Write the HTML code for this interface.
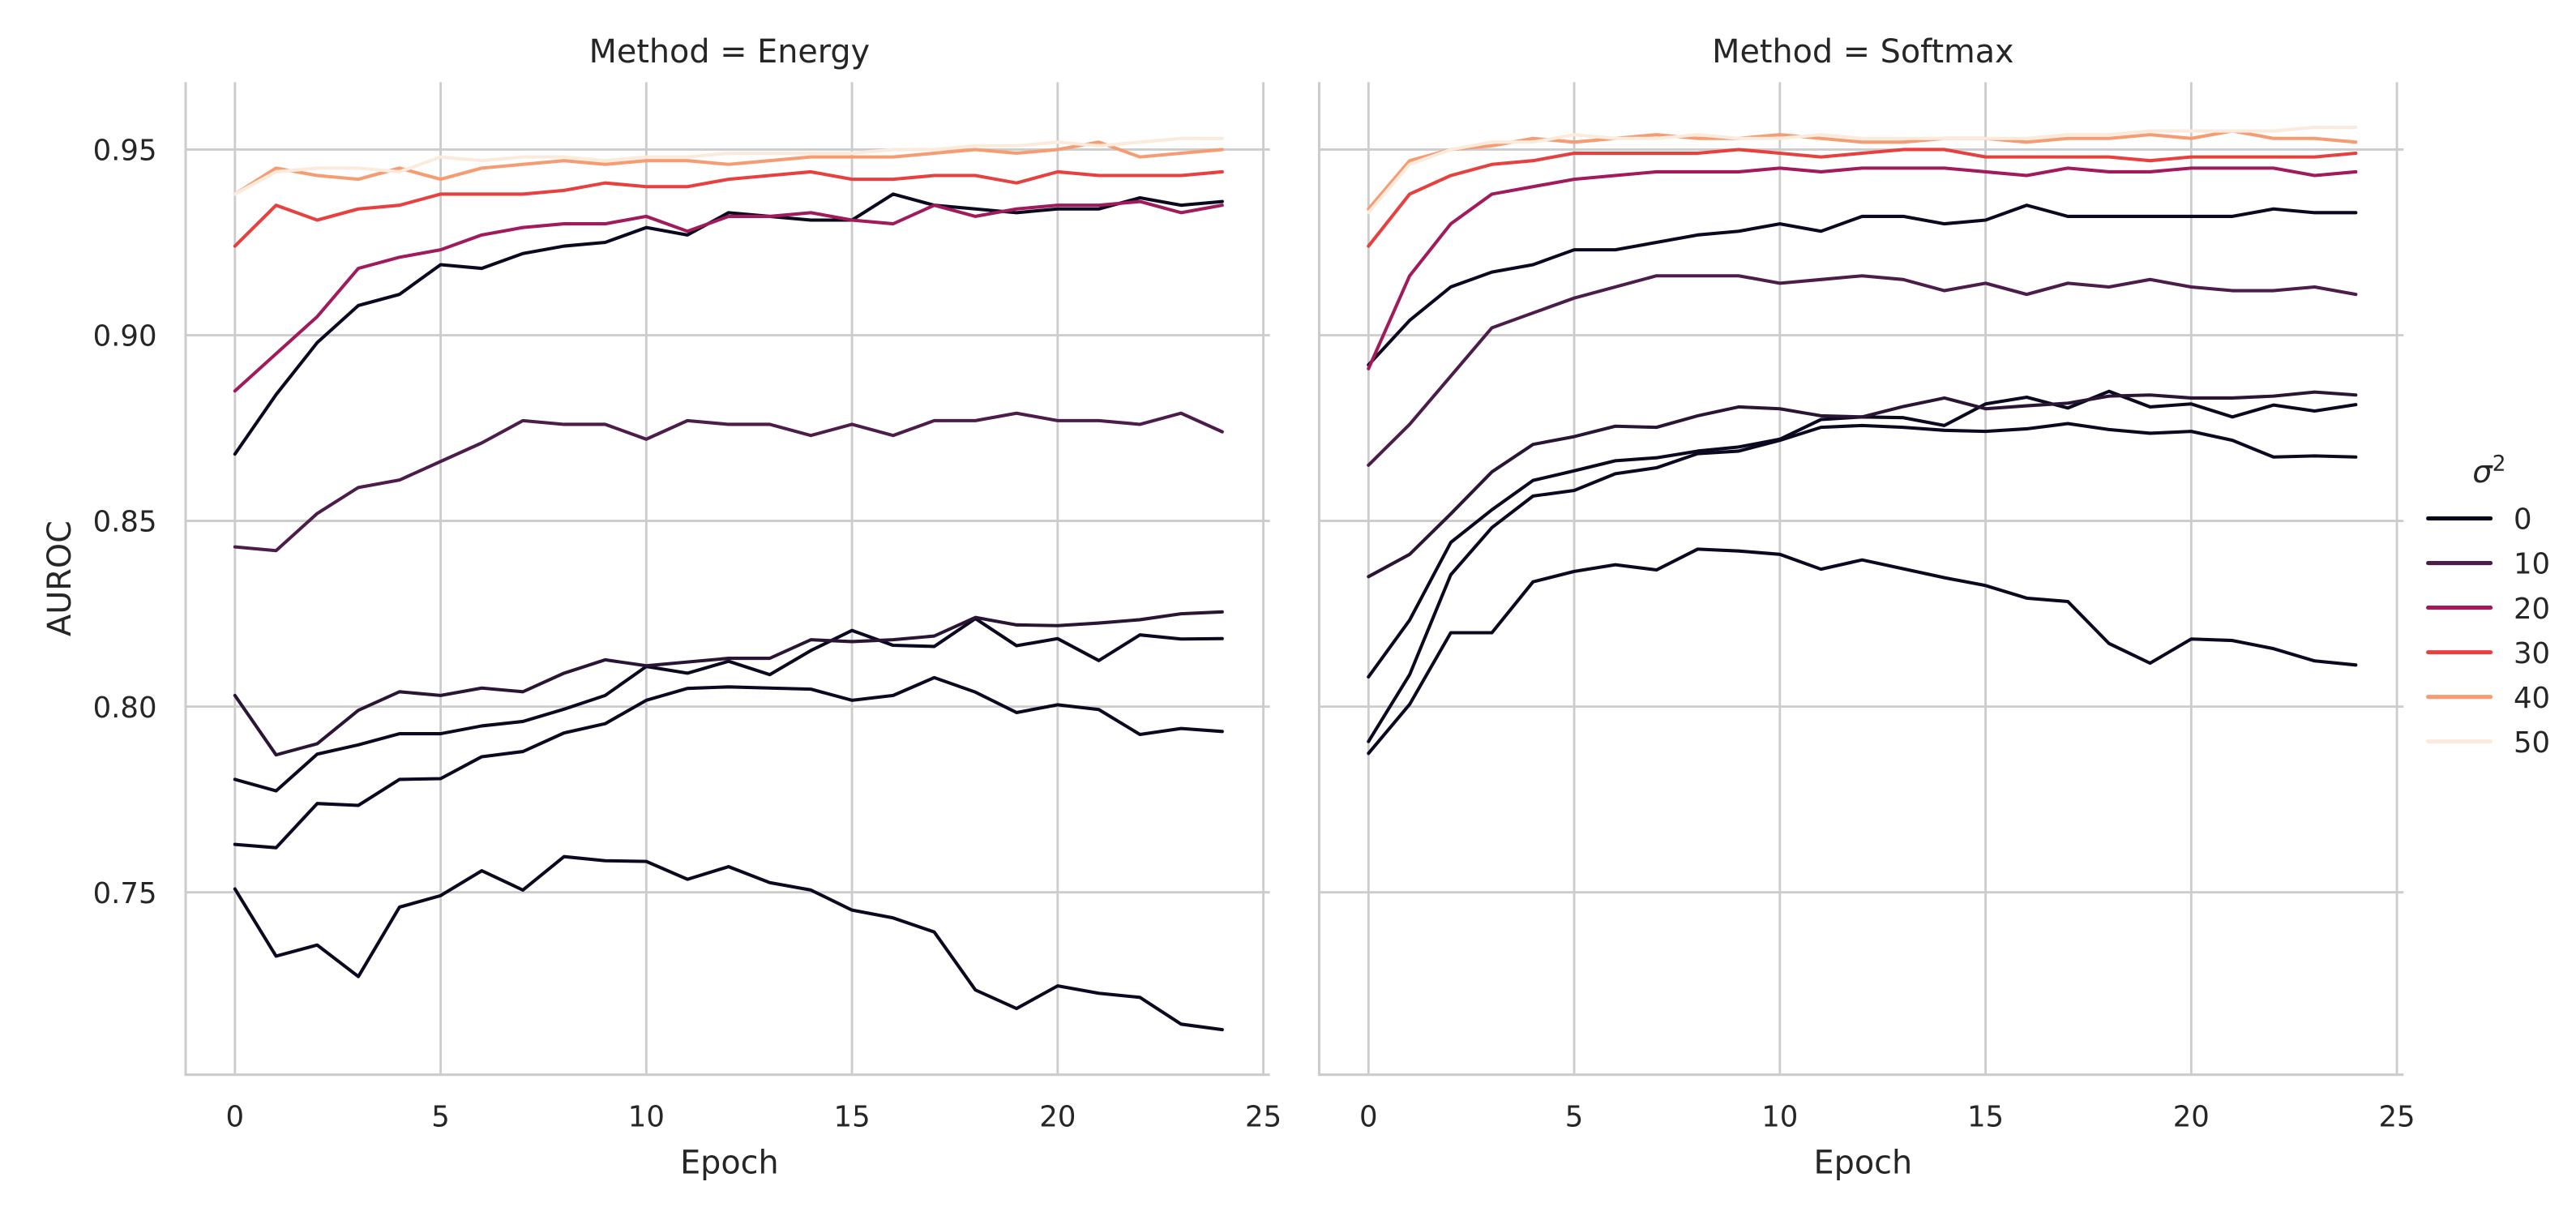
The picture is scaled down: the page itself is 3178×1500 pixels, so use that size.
<!DOCTYPE html>
<html><head><meta charset="utf-8"><style>
html,body{margin:0;padding:0;background:#fff;}
svg{display:block;}
text{font-family:"DejaVu Sans","Liberation Sans",sans-serif;fill:#262626;}
</style></head><body>
<svg id="chart" xmlns="http://www.w3.org/2000/svg" width="3178" height="1500" viewBox="0 0 1568 740" preserveAspectRatio="none">
<g id="root"></g>
</svg>
<script>
const epochs = Array.from({length:25},(_,i)=>i);
const yTicks = [0.75,0.80,0.85,0.90,0.95];
const yTickLabels = ["0.75","0.80","0.85","0.90","0.95"];
const xTicks = [0,5,10,15,20,25];
const xTickLabels = ["0","5","10","15","20","25"];
const panelTitles = ["Method = Energy","Method = Softmax"];
const legendLabels = ["0","10","20","30","40","50"];
const legendColors = ["#03051a","#4c1d4b","#a11a5b","#e83f3f","#f69c73","#faebdd"];

// Energy panel series
const energyColors = ["#0b0920","#0b0920","#0b0920","#2a1535","#4c1d4b","#0b0920","#a11a5b","#e83f3f","#f69c73","#faebdd"];
const energyNames = ["s0-a","s0-b","s0-c","s5","s10","s0-top","s20","s30","s40","s50"];
const eB4 = [0.7509,0.7328,0.7358,0.7273,0.746,0.7491,0.7558,0.7506,0.7596,0.7585,0.7583,0.7535,0.7569,0.7526,0.7506,0.7452,0.7431,0.7393,0.7237,0.7187,0.7248,0.7228,0.7217,0.7145,0.713];
const eB3 = [0.7629,0.762,0.7739,0.7734,0.7804,0.7806,0.7865,0.7879,0.7929,0.7954,0.8017,0.8049,0.8053,0.805,0.8047,0.8017,0.803,0.8078,0.8039,0.7984,0.8005,0.7992,0.7925,0.7941,0.7933];
const eB2 = [0.7804,0.7773,0.7872,0.7897,0.7927,0.7927,0.7948,0.796,0.7993,0.803,0.8108,0.809,0.8122,0.8086,0.8151,0.8205,0.8165,0.8162,0.8237,0.8164,0.8183,0.8124,0.8193,0.8182,0.8183];
const eP5 = [0.803,0.787,0.790,0.799,0.804,0.803,0.805,0.804,0.809,0.8126,0.811,0.812,0.813,0.813,0.818,0.8175,0.818,0.819,0.824,0.822,0.8218,0.8225,0.8234,0.825,0.8255];
const eP10 = [0.843,0.842,0.852,0.859,0.861,0.866,0.871,0.877,0.876,0.876,0.872,0.877,0.876,0.876,0.873,0.876,0.873,0.877,0.877,0.879,0.877,0.877,0.876,0.879,0.874];
const eB1 = [0.868,0.884,0.898,0.908,0.911,0.919,0.918,0.922,0.924,0.925,0.929,0.927,0.933,0.932,0.931,0.931,0.938,0.935,0.934,0.933,0.934,0.934,0.937,0.935,0.936];
const e20 = [0.885,0.895,0.905,0.918,0.921,0.923,0.927,0.929,0.930,0.930,0.932,0.928,0.932,0.932,0.933,0.931,0.930,0.935,0.932,0.934,0.935,0.935,0.936,0.933,0.935];
const e30 = [0.924,0.935,0.931,0.934,0.935,0.938,0.938,0.938,0.939,0.941,0.940,0.940,0.942,0.943,0.944,0.942,0.942,0.943,0.943,0.941,0.944,0.943,0.943,0.943,0.944];
const e40 = [0.938,0.945,0.943,0.942,0.945,0.942,0.945,0.946,0.947,0.946,0.947,0.947,0.946,0.947,0.948,0.948,0.948,0.949,0.950,0.949,0.950,0.952,0.948,0.949,0.950];
const e50 = [0.938,0.944,0.945,0.945,0.944,0.948,0.947,0.948,0.948,0.947,0.948,0.948,0.949,0.949,0.949,0.949,0.950,0.950,0.951,0.951,0.952,0.951,0.952,0.953,0.953];

// Softmax panel series
const softColors = ["#0b0920","#0b0920","#0b0920","#2a1535","#4c1d4b","#0b0920","#a11a5b","#e83f3f","#f69c73","#faebdd"];
const softNames = ["s0-a","s0-b","s0-c","s5","s10","s0-top","s20","s30","s40","s50"];
const sB4 = [0.7874,0.8006,0.8199,0.8199,0.8336,0.8364,0.8382,0.8368,0.8424,0.8419,0.841,0.837,0.8395,0.8371,0.8347,0.8326,0.8292,0.8283,0.817,0.8117,0.8182,0.8178,0.8156,0.8123,0.8112];
const sB3 = [0.7906,0.8086,0.8355,0.8482,0.8567,0.8582,0.8627,0.8643,0.8681,0.8688,0.8717,0.8752,0.8757,0.8752,0.8744,0.8741,0.8748,0.8762,0.8746,0.8736,0.8741,0.8717,0.8672,0.8675,0.8672];
const sB2 = [0.808,0.8233,0.8442,0.853,0.8609,0.8635,0.8662,0.867,0.8688,0.8699,0.872,0.8773,0.878,0.8778,0.8757,0.8815,0.8833,0.8804,0.8849,0.8807,0.8815,0.878,0.8812,0.8796,0.8813];
const sP5 = [0.835,0.841,0.8519,0.8632,0.8706,0.8727,0.8755,0.8752,0.8783,0.8807,0.8802,0.8783,0.878,0.8808,0.8831,0.8802,0.881,0.8817,0.8836,0.8839,0.8831,0.8831,0.8836,0.8847,0.8839];
const sP10 = [0.865,0.876,0.889,0.902,0.906,0.910,0.913,0.916,0.916,0.916,0.914,0.915,0.916,0.915,0.912,0.914,0.911,0.914,0.913,0.915,0.913,0.912,0.912,0.913,0.911];
const sB1 = [0.892,0.904,0.913,0.917,0.919,0.923,0.923,0.925,0.927,0.928,0.930,0.928,0.932,0.932,0.930,0.931,0.935,0.932,0.932,0.932,0.932,0.932,0.934,0.933,0.933];
const s20 = [0.891,0.916,0.930,0.938,0.940,0.942,0.943,0.944,0.944,0.944,0.945,0.944,0.945,0.945,0.945,0.944,0.943,0.945,0.944,0.944,0.945,0.945,0.945,0.943,0.944];
const s30 = [0.924,0.938,0.943,0.946,0.947,0.949,0.949,0.949,0.949,0.950,0.949,0.948,0.949,0.950,0.950,0.948,0.948,0.948,0.948,0.947,0.948,0.948,0.948,0.948,0.949];
const s40 = [0.934,0.947,0.950,0.951,0.953,0.952,0.953,0.954,0.953,0.953,0.954,0.953,0.952,0.952,0.953,0.953,0.952,0.953,0.953,0.954,0.953,0.955,0.953,0.953,0.952];
const s50 = [0.933,0.946,0.950,0.952,0.952,0.954,0.953,0.953,0.954,0.953,0.953,0.954,0.953,0.953,0.953,0.953,0.953,0.954,0.954,0.955,0.955,0.955,0.955,0.956,0.956];

const energySeries = [eB4,eB3,eB2,eP5,eP10,eB1,e20,e30,e40,e50];
const softSeries = [sB4,sB3,sB2,sP5,sP10,sB1,s20,s30,s40,s50];

const NS = "http://www.w3.org/2000/svg";
const root = document.getElementById('root');
function mk(tag, attrs, parent){
  const el = document.createElementNS(NS, tag);
  for (const k in attrs) el.setAttribute(k, attrs[k]);
  (parent||root).appendChild(el);
  return el;
}
const PX = 25.04;
function yScale(v){ return 91 + (0.95 - v) * 2260; }
const panels = [
  {x0:143, left:113, right:773, title:panelTitles[0], series:energySeries, colors:energyColors, names:energyNames, key:'energy', showY:true},
  {x0:833, left:803, right:1463, title:panelTitles[1], series:softSeries, colors:softColors, names:softNames, key:'softmax', showY:false}
];
const TOP = 50, BOT = 654;
panels.forEach(p => {
  const xScale = e => p.x0 + e * PX;
  const g = mk('g', {});
  
  
  xTicks.forEach((t,i) => {
    const gl = mk('line', {x1:xScale(t), x2:xScale(t), y1:TOP, y2:BOT, stroke:'#cccccc', 'stroke-width':1.4}, g);
    
    
    const tl = mk('text', {x:xScale(t), y:685.5, 'font-size':17.5, 'text-anchor':'middle'}, g);
    tl.textContent = xTickLabels[i];
    
    
  });
  yTicks.forEach((t,i) => {
    const gl = mk('line', {x1:p.left, x2:p.right, y1:yScale(t), y2:yScale(t), stroke:'#cccccc', 'stroke-width':1.4}, g);
    
    
    if (p.showY) {
      const tl = mk('text', {x:95.5, y:yScale(t)+6.5, 'font-size':17.5, 'text-anchor':'end'}, g);
      tl.textContent = yTickLabels[i];
      
      
    }
  });
  const ls = mk('line', {x1:p.left, x2:p.left, y1:TOP, y2:BOT+0.7, stroke:'#cccccc', 'stroke-width':1.5}, g);
  
  
  const bs = mk('line', {x1:p.left, x2:p.right, y1:BOT, y2:BOT, stroke:'#cccccc', 'stroke-width':1.5}, g);
  
  
  p.series.forEach((s, si) => {
    const d = s.map((v,i) => (i?'L':'M') + xScale(epochs[i]).toFixed(2) + ',' + yScale(v).toFixed(2)).join(' ');
    const path = mk('path', {d:d, fill:'none', stroke:p.colors[si], 'stroke-width':2, 'stroke-linejoin':'round', 'stroke-linecap':'round'}, g);
    
    
  });
  const title = mk('text', {x:(p.left+p.right)/2 + 1, y:38, 'font-size':19.6, 'text-anchor':'middle'}, g);
  title.textContent = p.title;
  
  
  const xl = mk('text', {x:(p.left+p.right)/2 + 1, y:714, 'font-size':19.6, 'text-anchor':'middle'}, g);
  xl.textContent = 'Epoch';
  
  
});
const yl = mk('text', {x:0, y:0, 'font-size':19.6, 'text-anchor':'middle', transform:'translate(43,352) rotate(-90)'});
yl.textContent = 'AUROC';


const lg = mk('g', {});


const lt = mk('text', {x:1505, y:293.5, 'font-size':19}, lg);


lt.innerHTML = '<tspan font-style="italic">σ</tspan><tspan dy="-7" font-size="13">2</tspan>';
legendLabels.forEach((lab, i) => {
  const yy = 315.5 + i * 27.15;
  const ln = mk('line', {x1:1478, x2:1516, y1:yy, y2:yy, stroke:legendColors[i], 'stroke-width':2.5, 'stroke-linecap':'round'}, lg);
  
  
  const tx = mk('text', {x:1530, y:yy+6.5, 'font-size':17.5}, lg);
  tx.textContent = lab;
  
  
});
</script>
</body></html>
